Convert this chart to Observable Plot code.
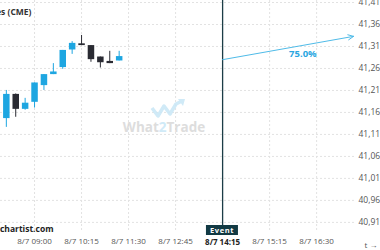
<!DOCTYPE html>
<html><head><meta charset="utf-8">
<script src="https://cdn.jsdelivr.net/npm/d3@7"></script>
<script src="https://cdn.jsdelivr.net/npm/@observablehq/plot@0.6"></script>
<style>
body{margin:0;background:#fff;font-family:"Open Sans",sans-serif;}
#wrap{position:relative;width:380px;height:250px;overflow:hidden;}
#wm{position:absolute;left:0;top:0;pointer-events:none;}
#evbox{position:absolute;background:#123a44;color:#fff;font:bold 7.5px "Open Sans",sans-serif;letter-spacing:0.6px;padding:1px 4px 1px 4px;height:8px;line-height:8px;transform:translateX(-50%);}
</style></head>
<body><div id="wrap"></div>
<script>
// minutes since midnight, 8/7
const times = [495,510,525,540,555,570,585,600,615,630,645,660,675];
const opens  = [41151,41206,41172,41188,41226,41251,41267,41307,41321,41317,41291,41281,41282];
const highs  = [41215,41207,41197,41232,41251,41276,41306,41326,41340,41317,41291,41304,41304];
const lows   = [41131,41154,41170,41175,41215,41251,41263,41297,41317,41279,41266,41276,41282];
const closes = [41206,41172,41186,41232,41251,41257,41306,41322,41317,41285,41278,41276,41292];
const yTicks = [40915,40965,41015,41065,41115,41165,41215,41265,41315,41365,41415];
const xGrid = [540,615,690,765,840,915,990];
const xLabels = [540,615,690,765,915,990];
const eventTime = 840, eventLabel = "8/7 14:15";
const arrowFrom = {t:840, v:41285}, arrowTo = {t:1049, v:41338};
const probLabel = {t:968, v:41299, text:"75.0%"};
const title = "E-mini Dow ($5) Futures (CME)";
const source = "autochartist.com";

const candles = times.map((t,i)=>({t,open:opens[i],high:highs[i],low:lows[i],close:closes[i],up:closes[i]>=opens[i]}));
const fmt = m => `8/7 ${String(Math.floor(m/60)).padStart(2,"0")}:${String(m%60).padStart(2,"0")}`;
const BLUE="#1ea6e1", DARK="#2a2b33";

const plot = Plot.plot({
  width:380, height:250,
  marginLeft:0, marginRight:25, marginTop:0, marginBottom:18,
  style:{fontFamily:"Open Sans, sans-serif", fontSize:"8px", color:"#555", background:"#fff"},
  x:{domain:[485.7,1052], axis:null},
  y:{domain:[40892,41419.5], axis:null},
  marks:[
    Plot.ruleY(yTicks,{stroke:"#e2e2e2", strokeDasharray:"2,2"}),
    Plot.ruleX(xGrid,{stroke:"#e2e2e2", strokeDasharray:"2,2"}),
    Plot.axisY(yTicks,{anchor:"right", tickSize:0, tickPadding:3, tickFormat:d3.format(","), fill:"#555", fontSize:8.5}),
    Plot.axisX(xLabels,{anchor:"bottom", tickSize:0, tickPadding:6, tickFormat:fmt, fill:"#555", fontSize:8}),
    Plot.text([eventLabel],{x:()=>eventTime, frameAnchor:"bottom", lineAnchor:"middle", dy:10, text:d=>d, fontWeight:"bold", fill:"#222", fontSize:8}),
    Plot.ruleX(candles,{x:"t", y1:"low", y2:"high", stroke:d=>d.up?BLUE:DARK, strokeWidth:1}),
    Plot.ruleX(candles,{x:"t", y1:"open", y2:d=>Math.abs(d.close-d.open)<3?d.open+(d.up?3:-3):d.close, stroke:d=>d.up?BLUE:DARK, strokeWidth:6.5}),
    Plot.ruleX([eventTime],{y1:41419.5, y2:40905, stroke:"#1c3d47", strokeWidth:1.3}),
    Plot.arrow([0],{x1:()=>arrowFrom.t, y1:()=>arrowFrom.v, x2:()=>arrowTo.t, y2:()=>arrowTo.v, stroke:"#4fbbe8", strokeWidth:1, headLength:9, headAngle:50, insetEnd:0}),
    Plot.text([probLabel],{x:"t", y:"v", text:"text", fill:"#2aa6df", fontSize:9.5, fontWeight:"bold"}),
    Plot.text([title],{frameAnchor:"top-left", dx:31, dy:8, textAnchor:"end", text:d=>d, fontWeight:"bold", fill:"#333", fontSize:8.5}),
    Plot.text([source],{frameAnchor:"bottom-left", dx:53, dy:-1, textAnchor:"end", text:d=>d, fontWeight:"bold", fill:"#222", fontSize:8.5})
  ]
});
const wrap = document.getElementById("wrap");
wrap.appendChild(plot);

// watermark (decoration)
const wm = document.createElementNS("http://www.w3.org/2000/svg","svg");
wm.setAttribute("id","wm"); wm.setAttribute("width",380); wm.setAttribute("height",250);
wm.innerHTML = `<g opacity="0.9">
<polyline points="152,108 158,116 164,106 170,114 176,104 182,101" fill="none" stroke="#cbe8f7" stroke-width="3.5" stroke-linejoin="round"/>
<polygon points="178,99 185,99 183,106" fill="#cbe8f7"/>
<text x="164" y="132" text-anchor="middle" font-family="Open Sans, sans-serif" font-weight="bold" font-size="13.5" fill="#dadada">What<tspan fill="#cbe8f7">2</tspan>Trade</text></g>`;
wrap.appendChild(wm);

// event box
const xs = plot.scale("x"), ys = plot.scale("y");
const box = document.createElement("div");
box.id="evbox"; box.textContent="Event";
box.style.left = xs.apply(eventTime)+"px";
box.style.top = (ys.apply(40905)-1)+"px";
wrap.appendChild(box);
</script>
</body></html>
